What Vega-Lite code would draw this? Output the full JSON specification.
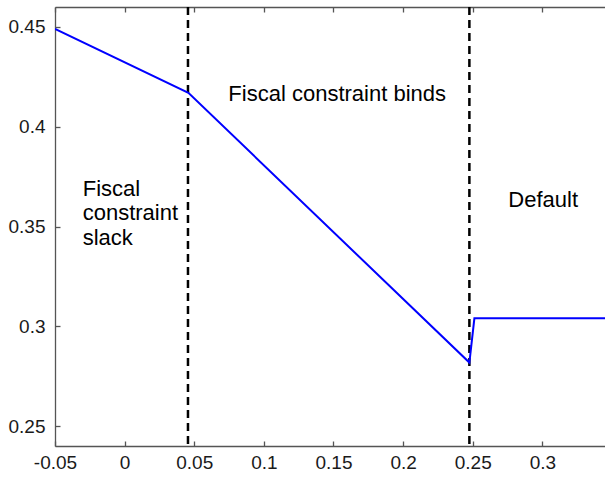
{
  "$schema": "https://vega.github.io/schema/vega-lite/v6.json",
  "width": 550,
  "height": 439,
  "autosize": "none",
  "padding": {"left": 55, "top": 7, "right": 0, "bottom": 31},
  "background": "white",
  "config": {
    "view": {"stroke": null},
    "font": "Liberation Sans",
    "axis": {
      "grid": false,
      "title": null,
      "domainColor": "#555555",
      "domainWidth": 1.3,
      "tickColor": "#555555",
      "tickWidth": 1.3,
      "tickSize": -5,
      "labelFlush": false,
      "labelOverlap": false,
      "labelFont": "Liberation Sans",
      "labelFontSize": 19,
      "labelColor": "#1a1a1a"
    }
  },
  "datasets": {
    "curve": [
      {"x": -0.05, "y": 0.449},
      {"x": 0.0458, "y": 0.417},
      {"x": 0.2476, "y": 0.2818},
      {"x": 0.2512, "y": 0.304},
      {"x": 0.345, "y": 0.304}
    ],
    "regimes": [{"x": 0.0455}, {"x": 0.2476}],
    "notes": [
      {"x": 0.0745, "y": 0.413, "label": "Fiscal constraint binds"},
      {"x": 0.2756, "y": 0.3597, "label": "Default"},
      {"x": -0.0301, "y": 0.3653, "label": "Fiscal\nconstraint\nslack"}
    ]
  },
  "layer": [
    {
      "data": {"name": "regimes"},
      "mark": {"type": "rule", "color": "black", "strokeWidth": 2.5, "strokeDash": [8, 5]},
      "encoding": {
        "x": {
          "field": "x", "type": "quantitative",
          "scale": {"domain": [-0.05, 0.345], "nice": false, "zero": false},
          "axis": {"orient": "top", "labels": false, "values": [-0.05, 0, 0.05, 0.1, 0.15, 0.2, 0.25, 0.3], "tickSize": -5}
        }
      }
    },
    {
      "data": {"name": "curve"},
      "mark": {"type": "line", "color": "#0000ff", "strokeWidth": 2, "clip": true},
      "encoding": {
        "x": {
          "field": "x", "type": "quantitative",
          "scale": {"domain": [-0.05, 0.345], "nice": false, "zero": false},
          "axis": {
            "orient": "bottom",
            "values": [-0.05, 0, 0.05, 0.1, 0.15, 0.2, 0.25, 0.3],
            "labelPadding": 12.5,
            "labelExpr": "datum.value < 0 ? '-' + format(-datum.value, '.2~f') : format(datum.value, '.2~f')"
          }
        },
        "y": {
          "field": "y", "type": "quantitative",
          "scale": {"domain": [0.24, 0.46], "nice": false, "zero": false},
          "axis": {
            "values": [0.25, 0.3, 0.35, 0.4, 0.45],
            "labelPadding": 15,
            "labelExpr": "format(datum.value, '.2~f')"
          }
        }
      }
    },
    {
      "data": {"name": "notes"},
      "mark": {"type": "text", "align": "left", "baseline": "alphabetic", "fontSize": 22, "font": "Liberation Sans", "color": "black", "lineBreak": "\n", "lineHeight": 24.3},
      "encoding": {
        "x": {"field": "x", "type": "quantitative", "axis": null},
        "y": {"field": "y", "type": "quantitative"},
        "text": {"field": "label"}
      }
    }
  ],
  "resolve": {"axis": {"x": "independent"}}
}
